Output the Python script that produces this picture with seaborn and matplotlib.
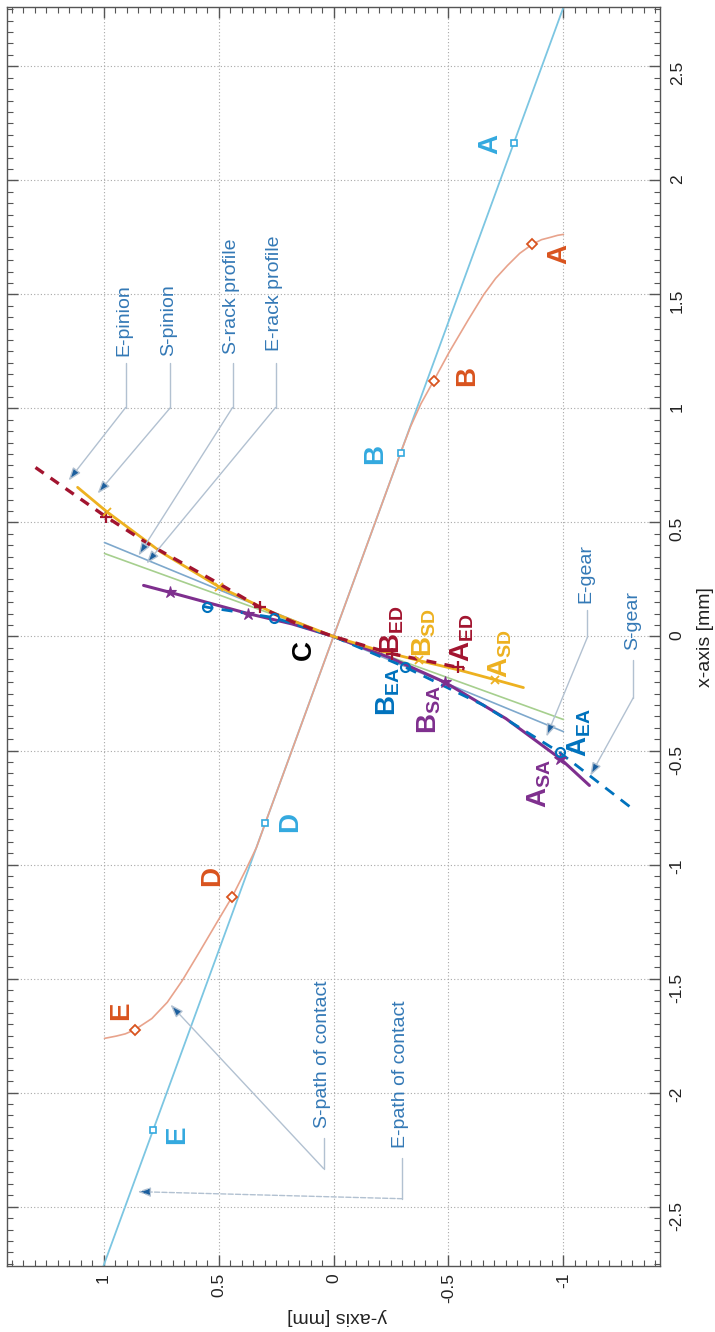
import matplotlib
matplotlib.use('Agg')
import matplotlib.pyplot as plt
from matplotlib.ticker import MultipleLocator
import seaborn as sns

# The chart is drawn a quarter turn round: the x data [mm] runs up the page,
# the y data [mm] runs from right to left along the bottom.  Every list below is
# in data coordinates (x, y).

# straight path of contact (cyan)
LINE_X = [-2.8, 2.8]
LINE_Y = [1.015, -1.015]
SQ_X = [2.165, 0.806, -0.816, -2.165]
SQ_Y = [-0.783, -0.292, 0.296, 0.783]
SQ_LABELS = ['A', 'B', 'D', 'E']
SQ_LAB_X = [2.158, 0.798, -0.815, -2.184]
SQ_LAB_Y = [-0.683, -0.183, 0.187, 0.678]

# curved path of contact (orange)
CURVE_X = [1.763, 1.759, 1.75, 1.74, 1.72, 1.68, 1.627, 1.57, 1.5, 1.39, 1.25, 1.12, 1.02, 0.92,
           0.806, 0.552, 0.0, -0.552, -0.816, -0.925, -1.02, -1.14, -1.25, -1.39, -1.509, -1.604,
           -1.675, -1.724, -1.742, -1.752, -1.762]
CURVE_Y = [-1.0, -0.975, -0.943, -0.905, -0.865, -0.81, -0.757, -0.705, -0.654, -0.587, -0.505,
           -0.435, -0.38, -0.335, -0.292, -0.2, 0.0, 0.2, 0.296, 0.335, 0.38, 0.44, 0.505, 0.587,
           0.658, 0.723, 0.79, 0.864, 0.905, 0.945, 0.996]
DIA_X = [1.72, 1.12, -1.14, -1.724]
DIA_Y = [-0.865, -0.435, 0.44, 0.864]
DIA_LABELS = ['A', 'B', 'D', 'E']
DIA_LAB_X = [1.675, 1.14, -1.048, -1.64]
DIA_LAB_Y = [-0.983, -0.583, 0.526, 0.922]

# tooth profiles through the pitch point C
E_PINION_X = [0.741, 0.526, 0.40, 0.236, 0.128, 0.062, 0.0, -0.076, -0.135, -0.142]
E_PINION_Y = [1.296, 0.991, 0.796, 0.506, 0.32, 0.172, 0.0, -0.256, -0.54, -0.57]
S_PINION_X = [0.654, 0.548, 0.37, 0.219, 0.098, 0.0, -0.062, -0.105, -0.148, -0.19, -0.224]
S_PINION_Y = [1.113, 0.987, 0.75, 0.5, 0.25, 0.0, -0.2, -0.37, -0.55, -0.704, -0.826]
S_GEAR_X = [0.224, 0.193, 0.10, 0.055, 0.0, -0.095, -0.2, -0.36, -0.536, -0.653]
S_GEAR_Y = [0.826, 0.709, 0.37, 0.18, 0.0, -0.25, -0.483, -0.75, -0.987, -1.113]
E_GEAR_X = [0.133, 0.128, 0.083, 0.0, -0.135, -0.30, -0.508, -0.755]
E_GEAR_Y = [0.57, 0.548, 0.26, 0.0, -0.313, -0.65, -0.983, -1.30]
S_RACK_X = [0.412, -0.417]
S_RACK_Y = [0.996, -1.0]
E_RACK_X = [0.364, -0.364]
E_RACK_Y = [0.996, -1.0]

E_PINION_MK_X = [0.526, 0.128, -0.076, -0.135]
E_PINION_MK_Y = [0.991, 0.32, -0.256, -0.54]
S_PINION_MK_X = [0.548, 0.219, -0.105, -0.19]
S_PINION_MK_Y = [0.987, 0.5, -0.37, -0.704]
S_GEAR_MK_X = [0.193, 0.10, -0.2, -0.536]
S_GEAR_MK_Y = [0.709, 0.37, -0.483, -0.987]
E_GEAR_MK_X = [0.128, 0.083, -0.135, -0.508]
E_GEAR_MK_Y = [0.548, 0.26, -0.313, -0.983]

POINT_LABELS = ['C', 'B_ED', 'B_SD', 'A_ED', 'A_SD', 'B_EA', 'B_SA', 'A_EA', 'A_SA']
POINT_LAB_X = [-0.061, 0.03, 0.018, -0.004, -0.075, -0.241, -0.32, -0.421, -0.645]
POINT_LAB_Y = [0.13, -0.255, -0.395, -0.561, -0.726, -0.239, -0.417, -1.07, -0.896]

# call-outs: text, text x (start of text), text y, leader x from/to, leader y, arrow tip x, y
NOTE_TEXT = ['E-pinion', 'S-pinion', 'S-rack profile', 'E-rack profile',
             'S-path of contact', 'E-path of contact', 'E-gear', 'S-gear']
NOTE_X = [1.232, 1.232, 1.24, 1.25, -2.154, -2.241, 0.145, -0.061]
NOTE_Y = [0.913, 0.717, 0.443, 0.257, 0.048, -0.291, -1.096, -1.30]
LEAD_X0 = [1.201, 1.201, 1.201, 1.201, -2.197, -2.285, 0.114, -0.105]
LEAD_X1 = [1.004, 1.004, 1.004, 1.004, -2.333, -2.465, -0.004, -0.268]
LEAD_Y = [0.904, 0.709, 0.439, 0.252, 0.043, -0.30, -1.104, -1.304]
TIP_X = [0.684, 0.627, 0.355, 0.32, -1.614, -2.434, -0.439, -0.61]
TIP_Y = [1.152, 1.026, 0.848, 0.813, 0.709, 0.852, -0.926, -1.117]

X_TICKS = [-2.5, -2, -1.5, -1, -0.5, 0, 0.5, 1, 1.5, 2, 2.5]
X_TICK_LABELS = ['-2.5', '-2', '-1.5', '-1', '-0.5', '0', '0.5', '1', '1.5', '2', '2.5']
Y_TICKS = [1, 0.5, 0, -0.5, -1]
Y_TICK_LABELS = ['1', '0.5', '0', '-0.5', '-1']

CYAN_LINE = '#7cc6e2'
CYAN = '#33a9df'
ORANGE_LINE = '#e8a38c'
ORANGE = '#d9531e'
DARKRED = '#a2142f'
YELLOW = '#edb120'
PURPLE = '#7e2f8e'
BLUE = '#0072bd'
STEEL = '#7ea8cc'
GREEN = '#a6cf8e'
NOTE_COLOR = '#3479b6'
LEADER = '#b2c1d1'
HEAD = '#1c5f9e'

sns.set_theme(style='white')
plt.rcParams['font.family'] = ['Liberation Sans', 'DejaVu Sans']
plt.rcParams['mathtext.fontset'] = 'custom'
plt.rcParams['mathtext.rm'] = 'Liberation Sans'
plt.rcParams['mathtext.bf'] = 'Liberation Sans:bold'
plt.rcParams['axes.unicode_minus'] = False


def main():
    fig = plt.figure(figsize=(7.15, 13.32), dpi=100)
    ax = fig.add_axes([7 / 715, 1 - 1266 / 1332, 653 / 715, 1259 / 1332])

    def curve(xs, ys, **kw):
        sns.lineplot(x=ys, y=xs, sort=False, estimator=None, ax=ax, **kw)

    def marks(xs, ys, **kw):
        ax.plot(ys, xs, linestyle='none', **kw)

    curve(LINE_X, LINE_Y, color=CYAN_LINE, linewidth=1.3)
    curve(CURVE_X, CURVE_Y, color=ORANGE_LINE, linewidth=1.2)
    curve(E_RACK_X, E_RACK_Y, color=GREEN, linewidth=1.2)
    curve(S_RACK_X, S_RACK_Y, color=STEEL, linewidth=1.2)
    curve(S_GEAR_X, S_GEAR_Y, color=PURPLE, linewidth=2.2)
    curve(E_GEAR_X, E_GEAR_Y, color=BLUE, linewidth=2.0, linestyle=(0, (4, 3)))
    curve(S_PINION_X, S_PINION_Y, color=YELLOW, linewidth=2.0)
    curve(E_PINION_X, E_PINION_Y, color=DARKRED, linewidth=2.4, linestyle=(0, (3, 2.5)))

    marks(SQ_X, SQ_Y, marker='s', markersize=5, markerfacecolor='white', markeredgecolor=CYAN, markeredgewidth=1.2)
    marks(DIA_X, DIA_Y, marker='D', markersize=5.5, markerfacecolor='white', markeredgecolor=ORANGE, markeredgewidth=1.3)
    marks(E_PINION_MK_X, E_PINION_MK_Y, marker='+', markersize=9, markeredgewidth=1.6, color=DARKRED)
    marks(S_PINION_MK_X, S_PINION_MK_Y, marker='x', markersize=6, markeredgewidth=1.3, color=YELLOW)
    marks(S_GEAR_MK_X, S_GEAR_MK_Y, marker='*', markersize=9, markeredgewidth=0.8, color=PURPLE)
    marks(E_GEAR_MK_X, E_GEAR_MK_Y, marker='o', markersize=6.5, markerfacecolor='none', markeredgecolor=BLUE, markeredgewidth=1.5)

    big = dict(fontsize=20, fontweight='bold', rotation=90, ha='center', va='center')
    for lab, x, y in zip(SQ_LABELS, SQ_LAB_X, SQ_LAB_Y):
        ax.text(y, x, lab, color=CYAN, **big)
    for lab, x, y in zip(DIA_LABELS, DIA_LAB_X, DIA_LAB_Y):
        ax.text(y, x, lab, color=ORANGE, **big)

    point_colors = {'C': 'black', 'ED': DARKRED, 'SD': YELLOW, 'EA': BLUE, 'SA': PURPLE}
    for lab, x, y in zip(POINT_LABELS, POINT_LAB_X, POINT_LAB_Y):
        if '_' in lab:
            head, sub = lab.split('_')
            txt = r'$\mathbf{%s}_{\mathbf{%s}}$' % (head, sub)
            col = point_colors[sub]
        else:
            txt, col = lab, point_colors[lab]
        ax.text(y, x, txt, color=col, **big)

    for i, text in enumerate(NOTE_TEXT):
        ax.text(NOTE_Y[i], NOTE_X[i], text, color=NOTE_COLOR, fontsize=14,
                rotation=90, ha='center', va='bottom')
        dashed = text.startswith('E-path')
        ax.plot([LEAD_Y[i], LEAD_Y[i]], [LEAD_X0[i], LEAD_X1[i]], color=LEADER, linewidth=1.0)
        ax.annotate('', xy=(TIP_Y[i], TIP_X[i]), xytext=(LEAD_Y[i], LEAD_X1[i]),
                    arrowprops=dict(arrowstyle='-|>,head_length=0.55,head_width=0.2',
                                    mutation_scale=14, facecolor=HEAD, edgecolor=LEADER,
                                    linewidth=1.0, linestyle='--' if dashed else '-',
                                    shrinkA=0, shrinkB=0))

    ax.set_xlim(1.42, -1.42)
    ax.set_ylim(-2.76, 2.76)
    ax.set_xticks(Y_TICKS)
    ax.set_xticklabels(Y_TICK_LABELS)
    ax.set_yticks(X_TICKS)
    ax.set_yticklabels(X_TICK_LABELS)
    ax.xaxis.set_minor_locator(MultipleLocator(0.05))
    ax.yaxis.set_minor_locator(MultipleLocator(0.05))
    ax.yaxis.tick_right()
    ax.tick_params(which='both', direction='in', top=True, bottom=True, left=True, right=True,
                   labelleft=False, labelright=True, labeltop=False, labelbottom=True,
                   color='#555555', labelcolor='#222222', labelsize=12.5)
    ax.tick_params(which='major', length=8, width=1.0)
    ax.tick_params(which='minor', length=4, width=0.8)
    ax.tick_params(axis='x', labelrotation=90, pad=5)
    ax.tick_params(axis='y', labelrotation=90, pad=7)
    ax.grid(True, which='major', linestyle=(0, (1, 2)), color='#a8a8a8', linewidth=0.8)
    for s in ax.spines.values():
        s.set_color('#555555')
        s.set_linewidth(1.0)
    ax.set_xlabel('')
    ax.set_ylabel('')

    fig.text(706 / 715, 1 - 637 / 1332, 'x-axis [mm]', fontsize=14, rotation=90,
             ha='center', va='center', color='#222222')
    fig.text(337 / 715, 1 - 1317 / 1332, 'y-axis [mm]', fontsize=14, rotation=180,
             ha='center', va='center', color='#222222')

    fig.savefig('out.png', dpi=100, facecolor='white')


main()
